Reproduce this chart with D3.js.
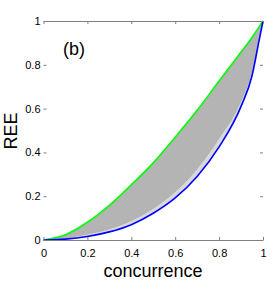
<!DOCTYPE html>
<html>
<head>
<meta charset="utf-8">
<script src="https://cdn.jsdelivr.net/npm/d3@7"></script>
<style>
  body { margin: 0; background: #fff; }
  svg { display: block; }
  text { font-family: "Liberation Sans", Arial, sans-serif; }
</style>
</head>
<body>
<div id="chart"></div>
<script>
// concurrence samples
const conc = [0, 0.1, 0.2, 0.3, 0.4, 0.5, 0.6, 0.7, 0.8, 0.9, 0.95, 0.98, 1];
// upper bound (green)
const upper = [0, 0.024, 0.081, 0.158, 0.252, 0.352, 0.469, 0.592, 0.726, 0.858, 0.925, 0.97, 1];
// lower bound (blue)
const lower = [0, 0.004, 0.016, 0.037, 0.07, 0.122, 0.192, 0.29, 0.425, 0.61, 0.75, 0.9, 1];
// lower edge of the dense part of the grey cloud
const cloudLow = [0, 0.007, 0.024, 0.048, 0.086, 0.142, 0.218, 0.322, 0.46, 0.63, 0.765, 0.905, 1];
const ticks = [0, 0.2, 0.4, 0.6, 0.8, 1];

const W = 273, H = 282;
const x = d3.scaleLinear().domain([0, 1]).range([43.5, 263]);
const y = d3.scaleLinear().domain([0, 1]).range([240, 21]);
const fmt = d3.format('~g');

const svg = d3.select('#chart').append('svg')
    .attr('width', W)
    .attr('height', H);

const pts = (ys) => conc.map((c, i) => [c, ys[i]]);

const band = d3.area()
    .x(d => x(d[0]))
    .y0(d => y(d[1]))
    .y1(d => y(d[2]))
    .curve(d3.curveMonotoneX);

// sparse part of the cloud near the lower bound
svg.append('path')
    .datum(conc.map((c, i) => [c, lower[i], cloudLow[i]]))
    .attr('fill', '#d9d9d9')
    .attr('d', band);

// dense cloud
svg.append('path')
    .datum(conc.map((c, i) => [c, cloudLow[i], upper[i]]))
    .attr('fill', '#b4b4b4')
    .attr('d', band);

const line = d3.line()
    .x(d => x(d[0]))
    .y(d => y(d[1]))
    .curve(d3.curveMonotoneX);

svg.append('path')
    .datum(pts(upper))
    .attr('fill', 'none')
    .attr('stroke', '#00ff00')
    .attr('stroke-width', 1.6)
    .attr('d', line);

svg.append('path')
    .datum(pts(lower))
    .attr('fill', 'none')
    .attr('stroke', '#0000ff')
    .attr('stroke-width', 1.6)
    .attr('d', line);

// axes
const axisColor = '#808080';
function style(g, keepDomain) {
    g.selectAll('line').attr('stroke', axisColor);
    g.select('.domain').attr('stroke', axisColor);
    if (!keepDomain) g.select('.domain').remove();
    g.selectAll('text').attr('fill', '#000').style('font-size', '11px');
}

svg.append('g')
    .attr('transform', 'translate(0,' + y(0) + ')')
    .call(d3.axisBottom(x).tickValues(ticks).tickFormat(fmt)
        .tickSizeInner(-3).tickSizeOuter(0).tickPadding(9))
    .call(g => style(g, true));

svg.append('g')
    .attr('transform', 'translate(0,' + y(1) + ')')
    .call(d3.axisTop(x).tickValues(ticks).tickFormat('')
        .tickSizeInner(-3).tickSizeOuter(0))
    .call(g => style(g, true));

svg.append('g')
    .attr('transform', 'translate(' + x(0) + ',0)')
    .call(d3.axisLeft(y).tickValues(ticks).tickFormat(fmt)
        .tickSizeInner(-3).tickSizeOuter(0).tickPadding(3))
    .call(g => style(g, false));

svg.append('g')
    .attr('transform', 'translate(' + x(1) + ',0)')
    .call(d3.axisRight(y).tickValues(ticks).tickFormat('')
        .tickSizeInner(-3).tickSizeOuter(0))
    .call(g => style(g, false));

// labels
svg.append('text')
    .attr('x', 153)
    .attr('y', 277)
    .attr('text-anchor', 'middle')
    .style('font-size', '18px')
    .text('concurrence');

svg.append('text')
    .attr('transform', 'translate(17,131) rotate(-90)')
    .attr('text-anchor', 'middle')
    .style('font-size', '18px')
    .text('REE');

svg.append('text')
    .attr('x', 63)
    .attr('y', 55)
    .style('font-size', '18px')
    .text('(b)');
</script>
</body>
</html>
